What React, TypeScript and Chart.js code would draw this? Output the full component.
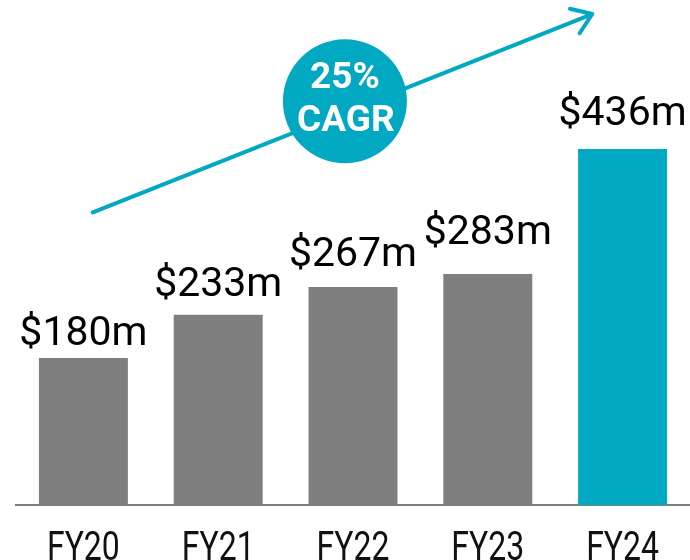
import React, { useEffect, useRef } from "react";
import { Chart, registerables } from "chart.js";

Chart.register(...registerables);

const categories = ["FY20", "FY21", "FY22", "FY23", "FY24"];
const revenue = [180, 233, 267, 283, 436];
const valueLabels = ["$180m", "$233m", "$267m", "$283m", "$436m"];
const cagrLines = ["25%", "CAGR"];

const GRAY = "#7f7f7f";
const TEAL = "#00a8c1";
const barColors = [GRAY, GRAY, GRAY, GRAY, TEAL];
// vertical gap (px) between each bar top and its value label baseline
const labelLift = [13, 19, 21, 30, 24];

const valueLabelPlugin = {
  id: "valueLabels",
  afterDatasetsDraw(chart: any) {
    const ctx = chart.ctx;
    const meta = chart.getDatasetMeta(0);
    ctx.save();
    ctx.font = "41px Roboto";
    ctx.fillStyle = "#000";
    ctx.textAlign = "center";
    ctx.textBaseline = "alphabetic";
    meta.data.forEach((bar: any, i: number) => {
      ctx.fillText(valueLabels[i], bar.x, bar.y - labelLift[i]);
    });
    ctx.restore();
  },
};

// condensed category labels drawn at the x scale's tick positions
const condensedTicksPlugin = {
  id: "condensedTicks",
  afterDraw(chart: any) {
    const ctx = chart.ctx;
    const xs = chart.scales.x;
    ctx.save();
    ctx.fillStyle = "#111";
    ctx.font = "40px Roboto";
    ctx.textAlign = "center";
    ctx.textBaseline = "alphabetic";
    const sx = 0.8;
    const baseY = chart.chartArea.bottom + 55;
    xs.ticks.forEach((t: any, i: number) => {
      const px = xs.getPixelForTick(i);
      ctx.save();
      ctx.translate(px, baseY);
      ctx.scale(sx, 1);
      ctx.fillText(String(xs.getLabelForValue(t.value)), 0, 0);
      ctx.restore();
    });
    ctx.restore();
  },
};

const cagrPlugin = {
  id: "cagr",
  afterDraw(chart: any) {
    const ctx = chart.ctx;
    const a = chart.chartArea;
    const w = a.right - a.left;
    const h = a.bottom - a.top;
    const x0 = a.left + w * 0.114;
    const y0 = a.top + h * 0.403;
    const x1 = a.left + w * 0.855;
    const y1 = a.top + h * -0.002;
    ctx.save();
    ctx.strokeStyle = TEAL;
    ctx.lineWidth = 4;
    ctx.lineCap = "round";
    ctx.beginPath();
    ctx.moveTo(x0, y0);
    ctx.lineTo(x1, y1);
    const ang = Math.atan2(y1 - y0, x1 - x0);
    const len = 23;
    const spread = (35 * Math.PI) / 180;
    ctx.moveTo(x1, y1);
    ctx.lineTo(x1 - len * Math.cos(ang - spread), y1 - len * Math.sin(ang - spread));
    ctx.moveTo(x1, y1);
    ctx.lineTo(x1 - len * Math.cos(ang + spread), y1 - len * Math.sin(ang + spread));
    ctx.stroke();

    const cx = a.left + w * 0.488;
    const cy = a.top + h * 0.176;
    ctx.fillStyle = TEAL;
    ctx.beginPath();
    ctx.arc(cx, cy, 62, 0, Math.PI * 2);
    ctx.fill();
    ctx.fillStyle = "#fff";
    ctx.font = "bold 37px Roboto";
    ctx.textAlign = "center";
    ctx.textBaseline = "middle";
    ctx.fillText(cagrLines[0], cx, cy - 22);
    ctx.fillText(cagrLines[1], cx + 1, cy + 21);
    ctx.restore();
  },
};

export default function App() {
  const ref = useRef<HTMLCanvasElement>(null);
  useEffect(() => {
    document.body.style.margin = "0";
    const chart = new Chart(ref.current as HTMLCanvasElement, {
      type: "bar",
      data: {
        labels: categories,
        datasets: [
          {
            data: revenue,
            backgroundColor: barColors,
            barPercentage: 0.66,
            categoryPercentage: 1,
          },
        ],
      },
      options: {
        animation: false,
        responsive: false,
        layout: { padding: { left: 16, right: 0, top: 15, bottom: 55 } },
        plugins: { legend: { display: false }, tooltip: { enabled: false } },
        scales: {
          x: {
            grid: { display: false, drawTicks: false },
            border: { display: true, color: GRAY, width: 2 },
            ticks: { display: false },
          },
          y: {
            display: false,
            min: 0,
            max: 600,
          },
        },
      },
      plugins: [valueLabelPlugin, condensedTicksPlugin, cagrPlugin],
    });
    return () => chart.destroy();
  }, []);
  return <canvas ref={ref} width={690} height={560} style={{ display: "block" }} />;
}
